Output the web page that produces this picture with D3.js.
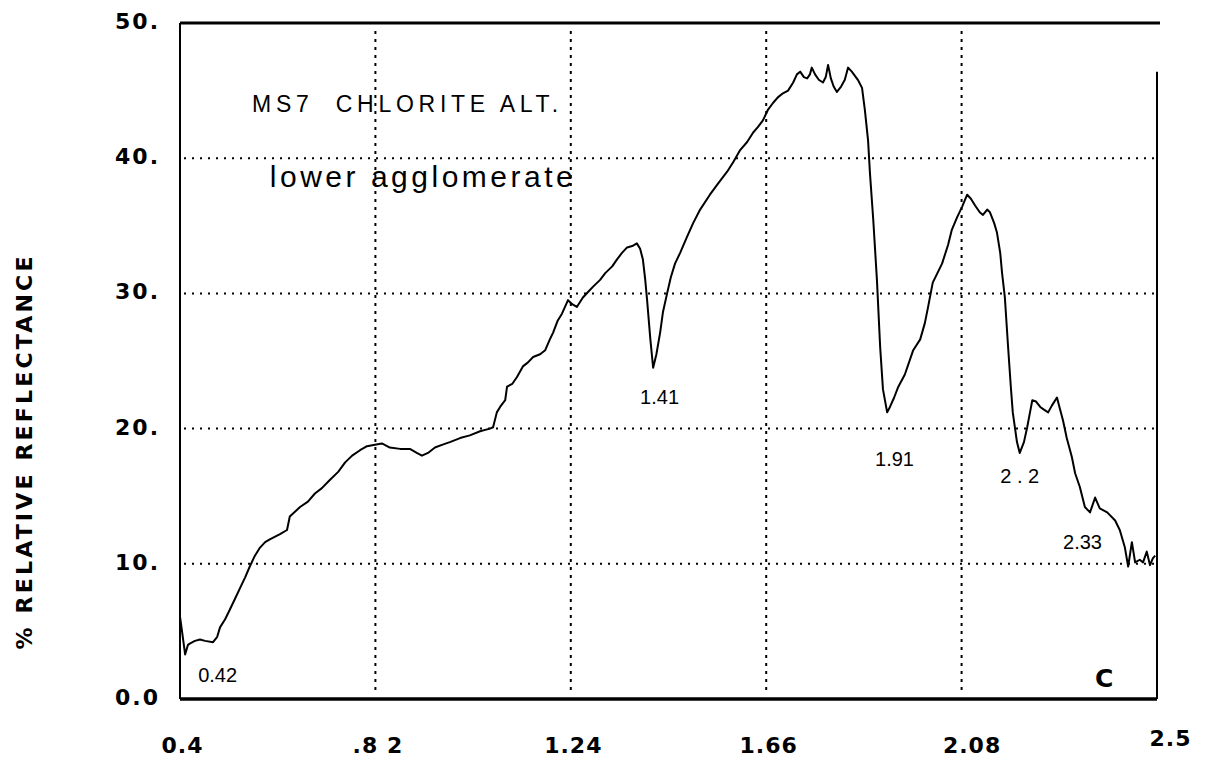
<!DOCTYPE html>
<html>
<head>
<meta charset="utf-8">
<script src="https://cdn.jsdelivr.net/npm/d3@7"></script>
<style>
  body { margin: 0; background: #fff; }
  svg { display: block; font-family: "Liberation Sans", Arial, Helvetica, sans-serif; }
</style>
</head>
<body>
<div id="chart"></div>
<script>
// wavelength (micrometres)
let wavelength = [
  0.400, 0.404, 0.411, 0.417, 0.421, 0.432, 0.443, 0.454, 0.471, 0.480,
  0.486, 0.497, 0.507, 0.518, 0.529, 0.540, 0.550, 0.561, 0.572, 0.583,
  0.593, 0.615, 0.630, 0.636, 0.658, 0.675, 0.690, 0.705, 0.722, 0.740,
  0.755, 0.770, 0.787, 0.802, 0.819, 0.834, 0.851, 0.873, 0.894, 0.909,
  0.920, 0.933, 0.948, 0.963, 0.980, 1.002, 1.023, 1.045, 1.066, 1.073,
  1.081, 1.088, 1.099, 1.103, 1.114, 1.124, 1.137, 1.148, 1.159, 1.174,
  1.185, 1.195, 1.202, 1.212, 1.221, 1.234, 1.243, 1.253, 1.266, 1.277,
  1.288, 1.303, 1.314, 1.329, 1.339, 1.350, 1.361, 1.372, 1.382, 1.389,
  1.395, 1.400, 1.404, 1.411, 1.417, 1.424, 1.432, 1.438, 1.447, 1.455,
  1.464, 1.475, 1.490, 1.503, 1.518, 1.539, 1.556, 1.576, 1.589, 1.604,
  1.619, 1.632, 1.642, 1.653, 1.664, 1.675, 1.685, 1.696, 1.707, 1.718,
  1.726, 1.733, 1.741, 1.748, 1.754, 1.758, 1.765, 1.773, 1.782, 1.788,
  1.793, 1.799, 1.805, 1.812, 1.821, 1.829, 1.836, 1.844, 1.857, 1.866,
  1.872, 1.879, 1.883, 1.890, 1.898, 1.905, 1.911, 1.920, 1.926, 1.935,
  1.944, 1.958, 1.976, 1.991, 2.001, 2.008, 2.018, 2.038, 2.051, 2.059,
  2.070, 2.081, 2.092, 2.100, 2.109, 2.119, 2.126, 2.135, 2.141, 2.150,
  2.156, 2.163, 2.167, 2.173, 2.180, 2.186, 2.190, 2.199, 2.205, 2.214,
  2.221, 2.227, 2.232, 2.240, 2.249, 2.257, 2.266, 2.274, 2.285, 2.291,
  2.298, 2.306, 2.317, 2.324, 2.334, 2.345, 2.356, 2.367, 2.377, 2.393,
  2.410, 2.420, 2.431, 2.438, 2.446, 2.453, 2.463, 2.470, 2.478, 2.485,
  2.491, 2.496
];

// % relative reflectance at each wavelength
let reflectance = [
  6.1, 5.1, 3.3, 4.0, 4.1, 4.3, 4.4, 4.3, 4.2, 4.6,
  5.3, 5.9, 6.6, 7.4, 8.2, 9.0, 9.8, 10.6, 11.2, 11.6,
  11.8, 12.2, 12.5, 13.5, 14.2, 14.6, 15.2, 15.6, 16.2, 16.8,
  17.5, 18.0, 18.4, 18.7, 18.8, 18.9, 18.6, 18.5, 18.5, 18.2,
  18.0, 18.2, 18.6, 18.8, 19.0, 19.3, 19.5, 19.8, 20.0, 20.1,
  21.2, 21.6, 22.1, 23.1, 23.3, 23.8, 24.6, 24.9, 25.3, 25.5,
  25.8, 26.6, 27.1, 28.0, 28.5, 29.5, 29.2, 29.0, 29.7, 30.1,
  30.5, 31.0, 31.5, 32.0, 32.5, 33.0, 33.4, 33.5, 33.7, 33.3,
  32.5, 31.0, 29.5, 26.6, 24.5, 25.5, 27.1, 28.6, 30.0, 31.2,
  32.2, 33.0, 34.2, 35.2, 36.2, 37.3, 38.1, 39.0, 39.7, 40.6,
  41.2, 41.9, 42.3, 42.8, 43.6, 44.1, 44.5, 44.8, 45.0, 45.6,
  46.2, 46.4, 46.0, 45.9, 46.2, 46.7, 46.2, 45.8, 45.6, 46.0,
  46.9, 45.9, 45.3, 44.9, 45.3, 45.8, 46.7, 46.4, 45.8, 45.2,
  43.6, 41.3, 38.9, 35.5, 31.0, 26.0, 22.9, 21.2, 21.6, 22.3,
  23.1, 24.0, 25.8, 26.6, 27.8, 29.0, 30.8, 32.2, 33.6, 34.7,
  35.6, 36.4, 37.3, 37.0, 36.5, 36.0, 35.8, 36.2, 36.0, 35.2,
  34.5, 33.0, 31.5, 29.7, 26.0, 23.0, 21.2, 19.0, 18.2, 19.0,
  20.1, 21.2, 22.1, 22.0, 21.6, 21.4, 21.2, 21.7, 22.3, 21.5,
  20.6, 19.3, 17.9, 16.7, 15.7, 14.2, 13.8, 14.9, 14.1, 13.8,
  13.2, 12.5, 11.2, 9.8, 11.6, 10.1, 10.3, 10.1, 10.9, 9.9,
  10.4, 10.6
];

let x_ticks = [0.4, 0.82, 1.24, 1.66, 2.08, 2.5];
let x_tick_labels = ["0.4", ".8 2", "1.24", "1.66", "2.08", "2.5"];
let y_ticks = [0, 10, 20, 30, 40, 50];
let y_tick_labels = ["0.0", "10.", "20.", "30.", "40.", "50."];

// absorption features marked on the plot (wavelength, reflectance of the label's start/baseline)
let feature_labels = ["0.42", "1.41", "1.91", "2 . 2", "2.33"];
let feature_x = [0.439, 1.389, 1.894, 2.163, 2.298];
let feature_y = [1.26, 21.8, 17.2, 16.0, 11.1];

let chart_width = 1208;
let chart_height = 762;
let margin = { top: 23, right: 51, bottom: 63, left: 180 };
let plot_w = chart_width - margin.left - margin.right;
let plot_h = chart_height - margin.top - margin.bottom;
let bold_font = "DejaVu Sans, Verdana, sans-serif";

let svg = d3
  .select("#chart")
  .append("svg")
  .attr("width", chart_width)
  .attr("height", chart_height);

let g = svg.append("g").attr("transform", "translate(" + margin.left + "," + margin.top + ")");

let x_scale = d3.scaleLinear().domain([0.4, 2.5]).range([0, plot_w]);
let y_scale = d3.scaleLinear().domain([0, 50]).range([plot_h, 0]);

// dotted grid
g.selectAll(".hgrid")
  .data(y_ticks.filter((d) => d > 0 && d < 50))
  .enter()
  .append("line")
  .attr("x1", 4)
  .attr("x2", plot_w - 2)
  .attr("y1", (d) => y_scale(d))
  .attr("y2", (d) => y_scale(d))
  .attr("stroke", "#000")
  .attr("stroke-width", 2)
  .attr("stroke-dasharray", "2,6");

g.selectAll(".vgrid")
  .data(x_ticks.filter((d) => d > 0.4 && d < 2.5))
  .enter()
  .append("line")
  .attr("x1", (d) => x_scale(d))
  .attr("x2", (d) => x_scale(d))
  .attr("y1", 8)
  .attr("y2", plot_h - 4)
  .attr("stroke", "#000")
  .attr("stroke-width", 2)
  .attr("stroke-dasharray", "3,5");

// frame (right side is open at the top, like the original plot)
g.append("line").attr("x1", 0).attr("x2", plot_w + 3).attr("y1", 0).attr("y2", 0)
  .attr("stroke", "#000").attr("stroke-width", 3);
g.append("line").attr("x1", 0).attr("x2", plot_w).attr("y1", plot_h).attr("y2", plot_h)
  .attr("stroke", "#000").attr("stroke-width", 3.5);
g.append("line").attr("x1", 0).attr("x2", 0).attr("y1", 0).attr("y2", plot_h)
  .attr("stroke", "#000").attr("stroke-width", 2);
g.append("line").attr("x1", plot_w).attr("x2", plot_w).attr("y1", y_scale(46.4)).attr("y2", plot_h)
  .attr("stroke", "#000").attr("stroke-width", 2);

// axes, labels only
let y_axis = d3.axisLeft(y_scale)
  .tickValues(y_ticks)
  .tickFormat((d, i) => y_tick_labels[i])
  .tickSize(0)
  .tickPadding(20);

g.append("g").call(y_axis)
  .call((a) => a.select(".domain").remove())
  .selectAll("text")
  .attr("font-family", bold_font)
  .attr("font-size", 22)
  .attr("font-weight", "bold")
  .attr("letter-spacing", "2px")
  .attr("dy", "0.25em")
  .attr("fill", "#000");

let x_axis = d3.axisBottom(x_scale)
  .tickValues(x_ticks)
  .tickFormat((d, i) => x_tick_labels[i])
  .tickSize(0)
  .tickPadding(38);

g.append("g").attr("transform", "translate(0," + plot_h + ")").call(x_axis)
  .call((a) => a.select(".domain").remove())
  .selectAll("text")
  .attr("font-family", bold_font)
  .attr("font-size", 22)
  .attr("font-weight", "bold")
  .attr("letter-spacing", "1px")
  .attr("fill", "#000")
  .attr("transform", (d, i) => (i === 5 ? "translate(13,-7)" : i === 4 ? "translate(10,0)" : "translate(2,0)"));

// y title
svg.append("text")
  .attr("transform", "translate(32,453) rotate(-90)")
  .attr("text-anchor", "middle")
  .attr("font-family", bold_font)
  .attr("font-size", 22)
  .attr("font-weight", "bold")
  .attr("textLength", 393)
  .attr("lengthAdjust", "spacing")
  .text("% RELATIVE REFLECTANCE");

// spectrum
let points = wavelength.map((w, i) => [w, reflectance[i]]);
let line = d3.line()
  .x((d) => x_scale(d[0]))
  .y((d) => y_scale(d[1]));

g.append("path")
  .datum(points)
  .attr("d", line)
  .attr("fill", "none")
  .attr("stroke", "#000")
  .attr("stroke-width", 2)
  .attr("stroke-linejoin", "round");

// titles inside the plot
g.append("text")
  .attr("x", x_scale(0.555))
  .attr("y", y_scale(43.4))
  .attr("font-size", 23)
  .attr("textLength", 306)
  .attr("lengthAdjust", "spacing")
  .style("white-space", "pre")
  .text("MS7  CHLORITE ALT.");

g.append("text")
  .attr("x", x_scale(0.593))
  .attr("y", y_scale(37.9))
  .attr("font-size", 30)
  .attr("textLength", 303)
  .attr("lengthAdjust", "spacing")
  .text("lower agglomerate");

g.selectAll(".feature")
  .data(feature_labels)
  .enter()
  .append("text")
  .attr("x", (d, i) => x_scale(feature_x[i]))
  .attr("y", (d, i) => y_scale(feature_y[i]))
  .attr("font-size", 20)
  .style("white-space", "pre")
  .text((d) => d);

g.append("text")
  .attr("x", x_scale(2.367))
  .attr("y", y_scale(0.9))
  .attr("font-family", bold_font)
  .attr("font-size", 25)
  .attr("font-weight", "bold")
  .text("C");
</script>
</body>
</html>
